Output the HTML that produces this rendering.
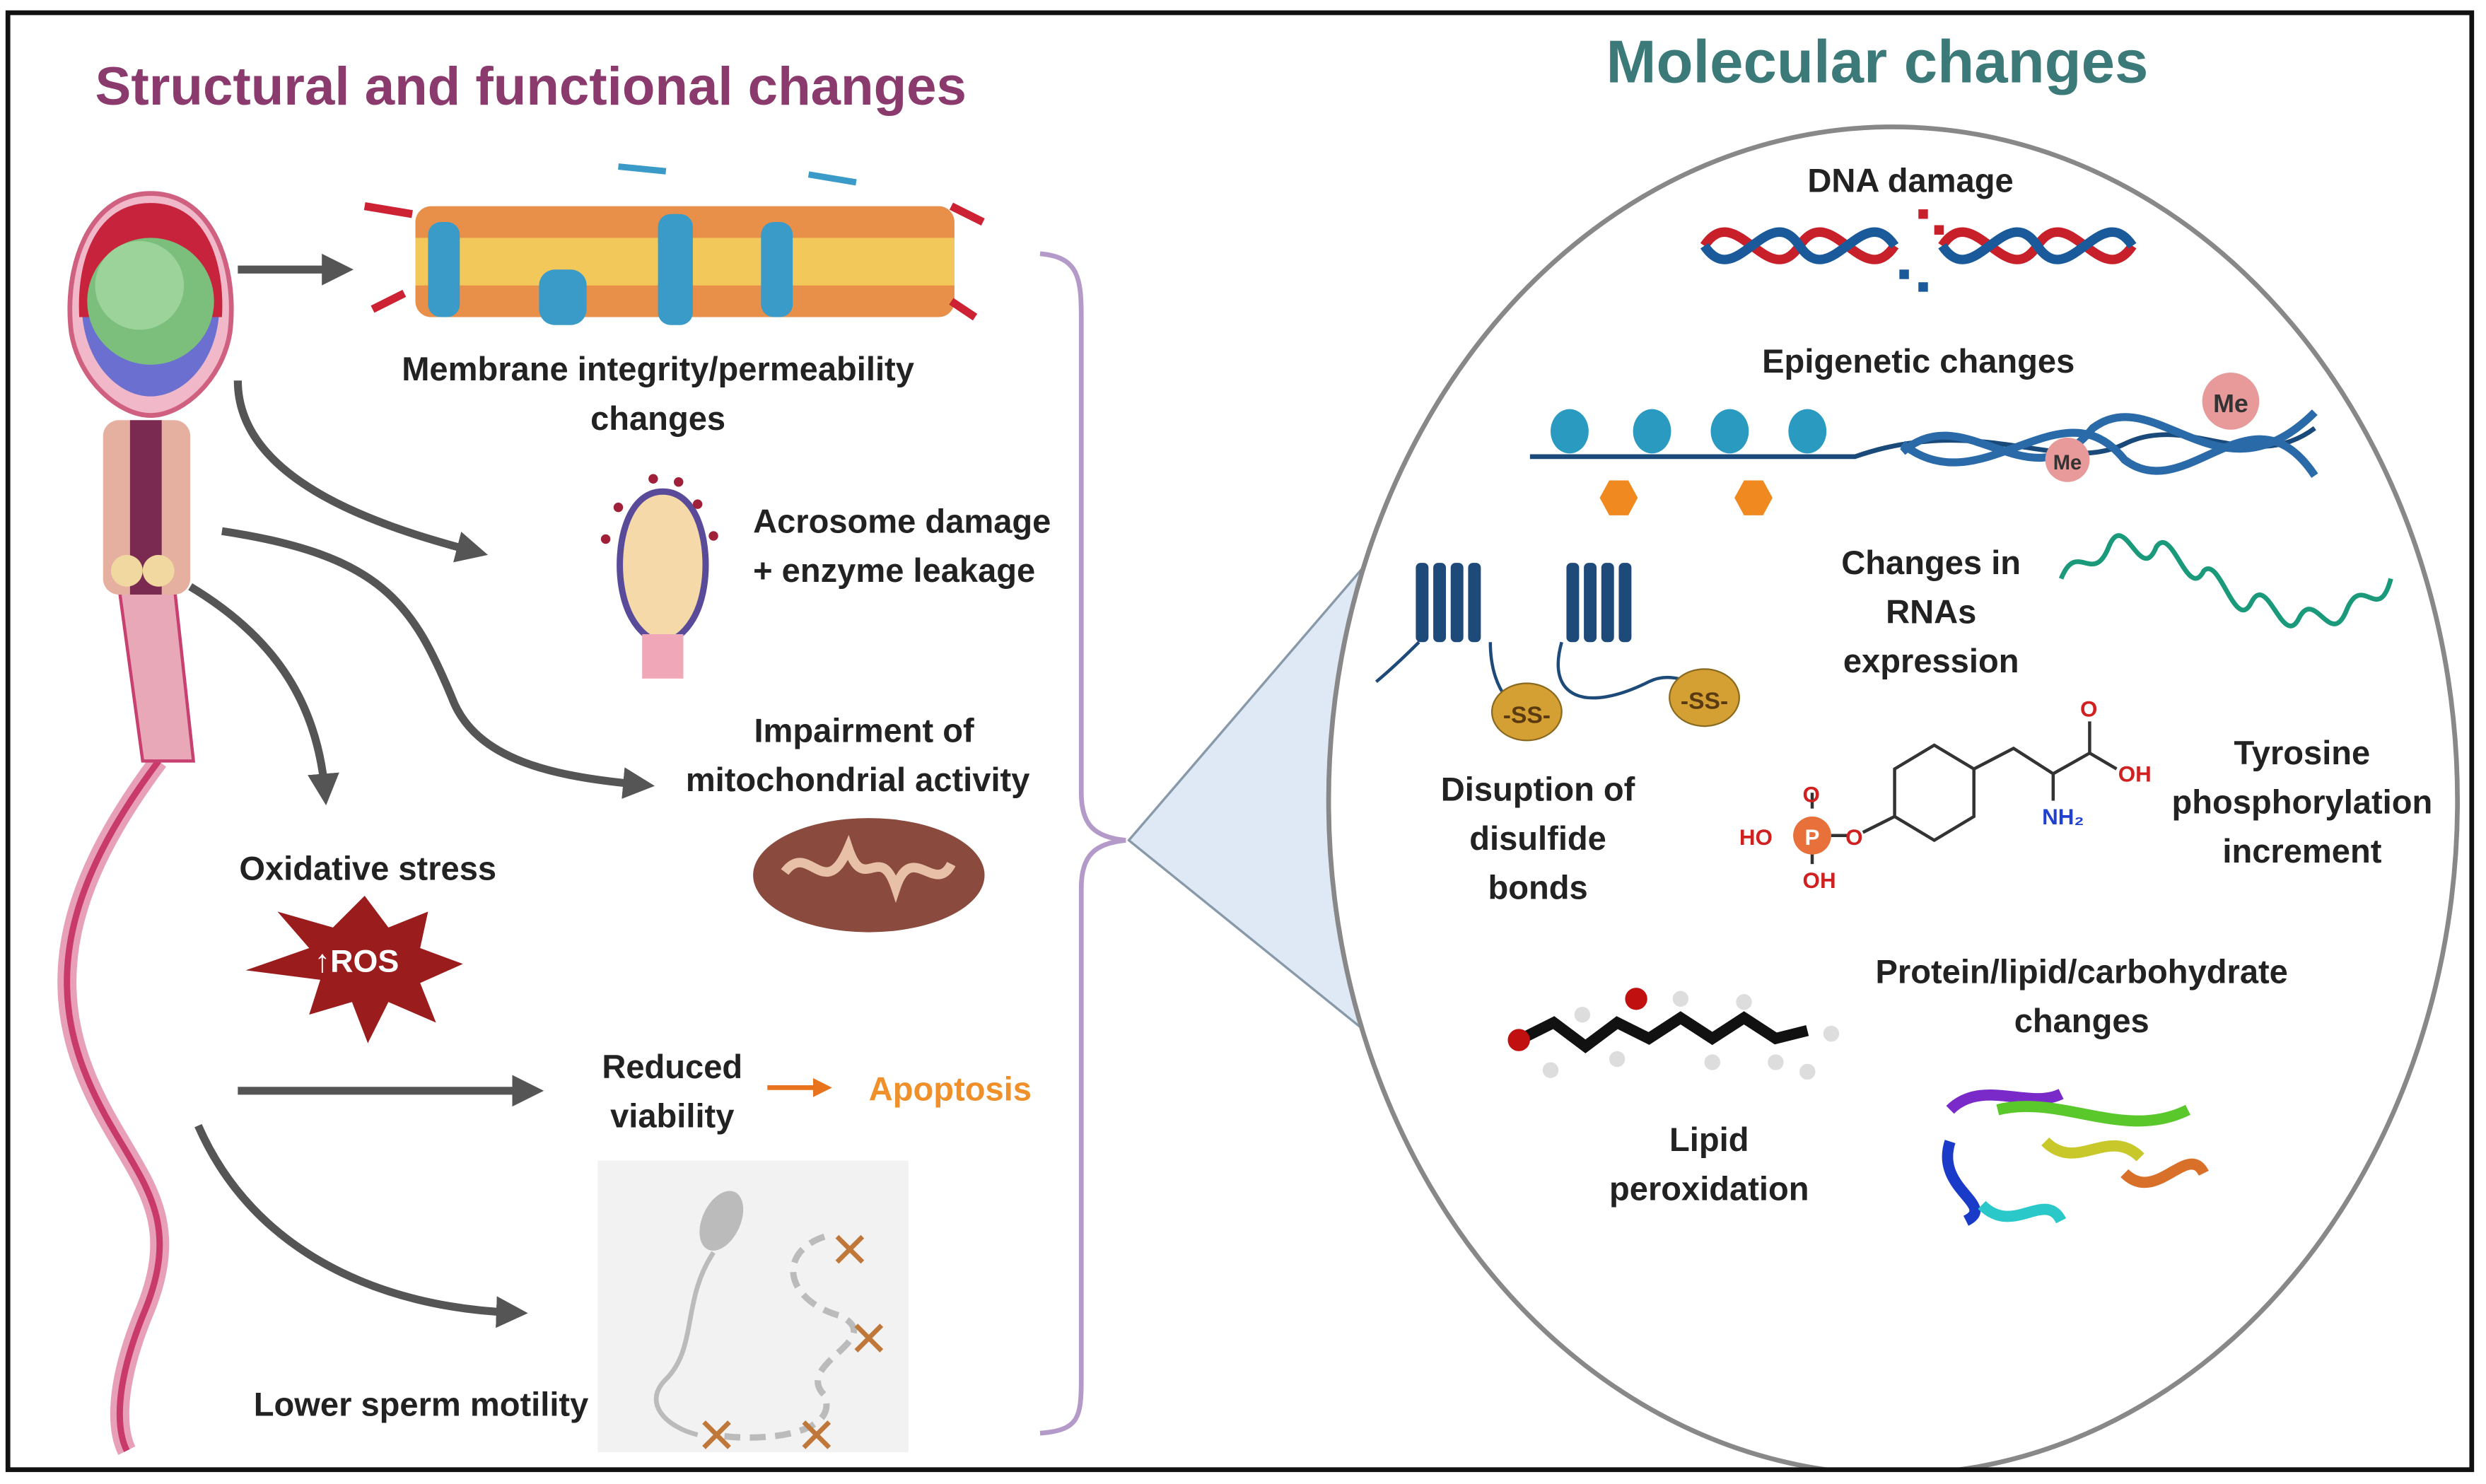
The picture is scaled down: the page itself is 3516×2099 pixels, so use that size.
<!DOCTYPE html>
<html><head><meta charset="utf-8"><style>
html,body{margin:0;padding:0;background:#fff}
svg{display:block}
text{font-family:"Liberation Sans",sans-serif;font-weight:bold}
</style></head><body>
<svg width="3516" height="2099" viewBox="0 0 1568 936" xmlns="http://www.w3.org/2000/svg">
<defs>
<marker id="ar" viewBox="0 0 10 10" refX="6" refY="5" markerWidth="4" markerHeight="4" orient="auto"><path d="M0,0L10,5L0,10z" fill="#555"/></marker>
<marker id="ao" viewBox="0 0 10 10" refX="6" refY="5" markerWidth="4" markerHeight="4" orient="auto"><path d="M0,0L10,5L0,10z" fill="#e8731c"/></marker>
<clipPath id="cl"><rect x="0" y="0" width="1568" height="926"/></clipPath>
</defs>
<rect x="0" y="0" width="1568" height="936" fill="#fff"/>
<text x="60" y="66" font-size="34" fill="#8b3a6e">Structural and functional changes</text>
<text x="1013" y="52" font-size="38" fill="#3c7a7a">Molecular changes</text>

<!-- sperm -->
<path d="M100,480 C40,560 30,620 55,680 C80,740 120,760 90,830 C70,880 75,905 80,915" fill="none" stroke="#e8a0b8" stroke-width="12"/>
<path d="M100,480 C40,560 30,620 55,680 C80,740 120,760 90,830 C70,880 75,905 80,915" fill="none" stroke="#c73a6a" stroke-width="4"/>
<path d="M75,370 L110,370 L122,480 L90,480 Z" fill="#e8a8b8" stroke="#c84070" stroke-width="2"/>
<rect x="65" y="265" width="55" height="110" rx="10" fill="#e6b0a0"/>
<rect x="82" y="265" width="20" height="110" fill="#7a2a50"/>
<circle cx="80" cy="360" r="10" fill="#f1d8a0"/><circle cx="100" cy="360" r="10" fill="#f1d8a0"/>
<path d="M95,122 C55,122 40,170 45,210 C50,240 75,262 95,262 C115,262 140,240 145,210 C150,170 135,122 95,122 Z" fill="#f0b8c8" stroke="#d06080" stroke-width="3"/>
<path d="M95,128 C60,128 48,165 50,200 L140,200 C142,165 130,128 95,128 Z" fill="#c8233d"/>
<path d="M52,200 C55,230 75,250 95,250 C115,250 135,230 138,200 Z" fill="#6a6fd0"/>
<circle cx="95" cy="190" r="40" fill="#7cbf7c"/>
<circle cx="88" cy="180" r="28" fill="#a8dba8" opacity=".7"/>

<g stroke="#555" stroke-width="5" fill="none" marker-end="url(#ar)">
<path d="M150,170 L215,170"/>
<path d="M150,240 C150,300 230,330 300,348"/>
<path d="M140,335 C240,350 260,380 285,440 C300,480 350,490 405,495"/>
<path d="M120,370 C170,400 200,440 205,500"/>
<path d="M150,688 L335,688"/>
<path d="M125,710 C160,790 240,825 325,828"/>
</g>

<!-- membrane -->
<rect x="262" y="130" width="340" height="70" rx="10" fill="#e8904a"/>
<rect x="262" y="150" width="340" height="30" fill="#f3c85a"/>
<rect x="270" y="140" width="20" height="60" rx="8" fill="#3a9ac8"/>
<rect x="415" y="135" width="22" height="70" rx="8" fill="#3a9ac8"/>
<rect x="340" y="170" width="30" height="35" rx="10" fill="#3a9ac8"/>
<rect x="480" y="140" width="20" height="60" rx="8" fill="#3a9ac8"/>
<path d="M230,130 L260,135 M235,195 L255,185 M600,130 L620,140 M600,190 L615,200" stroke="#c23" stroke-width="5"/>
<path d="M390,105 L420,108 M510,110 L540,115" stroke="#3a9ac8" stroke-width="4"/>
<text x="415" y="240" font-size="21" fill="#222" text-anchor="middle">Membrane integrity/permeability</text>
<text x="415" y="271" font-size="21" fill="#222" text-anchor="middle">changes</text>

<path d="M418,310 C395,310 388,345 392,370 C396,395 410,405 418,405 C426,405 440,395 444,370 C448,345 441,310 418,310 Z" fill="#f5d9a8" stroke="#5a4a9a" stroke-width="4"/>
<rect x="405" y="400" width="26" height="28" fill="#f0a8b8"/>
<g fill="#a0203a"><circle cx="390" cy="320" r="3"/><circle cx="382" cy="340" r="3"/><circle cx="440" cy="318" r="3"/><circle cx="450" cy="338" r="3"/><circle cx="412" cy="302" r="3"/><circle cx="428" cy="304" r="3"/></g>
<text x="475" y="336" font-size="21" fill="#222">Acrosome damage</text>
<text x="475" y="367" font-size="21" fill="#222">+ enzyme leakage</text>

<text x="545" y="468" font-size="21" fill="#222" text-anchor="middle">Impairment of</text>
<text x="541" y="499" font-size="21" fill="#222" text-anchor="middle">mitochondrial activity</text>
<ellipse cx="548" cy="552" rx="73" ry="36" fill="#8a4a3e"/>
<path d="M495,550 C510,530 520,570 535,535 C545,565 555,530 565,560 C575,530 590,565 600,545" stroke="#e8c0a8" stroke-width="6" fill="none"/>

<text x="232" y="555" font-size="21" fill="#222" text-anchor="middle">Oxidative stress</text>
<polygon points="230,565 245,585 270,575 265,598 292,608 265,620 275,645 245,632 232,658 222,632 195,640 202,618 155,612 195,598 175,575 210,585" fill="#9a1c1c"/>
<text x="225" y="613" font-size="20" fill="#fff" text-anchor="middle">↑ROS</text>

<text x="424" y="680" font-size="21" fill="#222" text-anchor="middle">Reduced</text>
<text x="424" y="711" font-size="21" fill="#222" text-anchor="middle">viability</text>
<path d="M484,686 L520,686" stroke="#e8731c" stroke-width="3" marker-end="url(#ao)"/>
<text x="548" y="694" font-size="21" fill="#f0902a">Apoptosis</text>

<rect x="377" y="732" width="196" height="184" fill="#f2f2f2"/>
<ellipse cx="455" cy="770" rx="12" ry="20" fill="#bbb" transform="rotate(25 455 770)"/>
<path d="M450,790 C430,820 440,850 420,870 C405,885 420,900 440,905" stroke="#bbb" stroke-width="3" fill="none"/>
<path d="M520,780 C490,790 495,820 530,830 C560,845 500,860 520,880 C530,905 480,910 450,905" stroke="#bbb" stroke-width="4" stroke-dasharray="10 6" fill="none"/>
<g stroke="#c0783a" stroke-width="3"><path d="M528,780l16,16M544,780l-16,16M540,836l16,16M556,836l-16,16M444,897l16,16M460,897l-16,16M507,897l16,16M523,897l-16,16"/></g>
<text x="160" y="893" font-size="21" fill="#222">Lower sperm motility</text>

<path d="M656,160 C680,162 682,175 682,200 L682,500 C682,520 690,528 710,530 C690,532 682,540 682,560 L682,870 C682,895 680,902 656,904" fill="none" stroke="#b39ac8" stroke-width="3"/>

<polygon points="712,530 858,360 935,710" fill="#dfe8f5" stroke="#8899aa" stroke-width="1.5"/>
<ellipse cx="1194" cy="505" rx="356" ry="425" fill="#fff" stroke="#888" stroke-width="3" clip-path="url(#cl)"/>

<text x="1205" y="121" font-size="21" fill="#222" text-anchor="middle">DNA damage</text>
<path d="M1075,155 C1095,125 1115,185 1135,155 C1155,125 1175,185 1195,155 M1225,155 C1245,125 1265,185 1285,155 C1305,125 1325,185 1345,155" stroke="#c8202a" stroke-width="6" fill="none"/>
<path d="M1075,155 C1095,185 1115,125 1135,155 C1155,185 1175,125 1195,155 M1225,155 C1245,185 1265,125 1285,155 C1305,185 1325,125 1345,155" stroke="#1a5a9a" stroke-width="6" fill="none"/>
<g fill="#1a5a9a"><rect x="1198" y="170" width="6" height="6"/><rect x="1210" y="178" width="6" height="6"/></g>
<g fill="#c8202a"><rect x="1210" y="132" width="6" height="6"/><rect x="1220" y="142" width="6" height="6"/></g>

<text x="1210" y="235" font-size="21" fill="#222" text-anchor="middle">Epigenetic changes</text>
<path d="M965,288 L1170,288 C1250,260 1300,300 1340,280 C1380,260 1420,300 1460,270" stroke="#1a4a7a" stroke-width="3" fill="none"/>
<path d="M1200,285 C1240,250 1280,320 1320,270 C1360,240 1400,320 1460,260 M1200,280 C1250,320 1300,240 1340,290 C1380,320 1420,240 1460,300" stroke="#2a6aa8" stroke-width="5" fill="none"/>
<g fill="#2a9ac0"><ellipse cx="990" cy="272" rx="12" ry="14"/><ellipse cx="1042" cy="272" rx="12" ry="14"/><ellipse cx="1091" cy="272" rx="12" ry="14"/><ellipse cx="1140" cy="272" rx="12" ry="14"/></g>
<g fill="#f08a20"><polygon points="1015,303 1027,303 1033,314 1027,325 1015,325 1009,314"/><polygon points="1100,303 1112,303 1118,314 1112,325 1100,325 1094,314"/></g>
<circle cx="1407" cy="253" r="18" fill="#e89a9a"/><text x="1407" y="260" font-size="16" fill="#333" text-anchor="middle" font-weight="normal">Me</text>
<circle cx="1304" cy="290" r="14" fill="#e89a9a"/><text x="1304" y="296" font-size="13" fill="#333" text-anchor="middle" font-weight="normal">Me</text>

<text x="1218" y="362" font-size="21" fill="#222" text-anchor="middle">Changes in</text>
<text x="1218" y="393" font-size="21" fill="#222" text-anchor="middle">RNAs</text>
<text x="1218" y="424" font-size="21" fill="#222" text-anchor="middle">expression</text>
<path d="M1300,365 C1310,340 1320,370 1330,345 C1340,320 1350,370 1360,345 C1370,330 1380,380 1390,360 C1400,350 1410,400 1420,380 C1430,360 1440,410 1450,390 C1460,370 1470,410 1480,385 C1490,360 1500,395 1508,365" stroke="#1a9a7a" stroke-width="3" fill="none"/>

<g fill="#1e4a7a"><rect x="893" y="355" width="8" height="50" rx="3"/><rect x="904" y="355" width="8" height="50" rx="3"/><rect x="915" y="355" width="8" height="50" rx="3"/><rect x="926" y="355" width="8" height="50" rx="3"/><rect x="988" y="355" width="8" height="50" rx="3"/><rect x="999" y="355" width="8" height="50" rx="3"/><rect x="1010" y="355" width="8" height="50" rx="3"/><rect x="1021" y="355" width="8" height="50" rx="3"/></g>
<path d="M868,430 C880,420 890,410 895,405 M940,405 C940,440 960,450 962,448 M985,405 C975,440 1000,450 1040,430 C1060,420 1080,440 1095,445" stroke="#1e4a7a" stroke-width="2" fill="none"/>
<ellipse cx="963" cy="449" rx="22" ry="18" fill="#d4a034" stroke="#8a6a20"/><text x="963" y="456" font-size="15" fill="#5a3a10" text-anchor="middle">-SS-</text>
<ellipse cx="1075" cy="440" rx="22" ry="18" fill="#d4a034" stroke="#8a6a20"/><text x="1075" y="447" font-size="15" fill="#5a3a10" text-anchor="middle">-SS-</text>
<text x="970" y="505" font-size="21" fill="#222" text-anchor="middle">Disuption of</text>
<text x="970" y="536" font-size="21" fill="#222" text-anchor="middle">disulfide</text>
<text x="970" y="567" font-size="21" fill="#222" text-anchor="middle">bonds</text>

<polygon points="1195,485 1220,470 1245,485 1245,515 1220,530 1195,515" fill="none" stroke="#333" stroke-width="2"/>
<path d="M1245,485 L1270,472 L1295,488 L1318,475 M1318,475 L1318,455 M1318,475 L1335,485 M1295,488 L1295,505 M1195,515 L1175,525 M1155,527 L1165,527 M1143,510 L1143,500 M1143,545 L1143,535" stroke="#333" stroke-width="2" fill="none"/>
<circle cx="1143" cy="527" r="12" fill="#e8703a"/><text x="1143" y="533" font-size="14" fill="#fff" text-anchor="middle" font-weight="normal">P</text>
<g font-size="14" font-weight="normal"><text x="1097" y="533" fill="#d02020">HO</text><text x="1164" y="533" fill="#d02020">O</text><text x="1137" y="506" fill="#d02020">O</text><text x="1137" y="560" fill="#d02020">OH</text><text x="1312" y="452" fill="#d02020">O</text><text x="1336" y="493" fill="#d02020">OH</text><text x="1288" y="520" fill="#2040d0">NH₂</text></g>
<text x="1452" y="482" font-size="21" fill="#222" text-anchor="middle">Tyrosine</text>
<text x="1452" y="513" font-size="21" fill="#222" text-anchor="middle">phosphorylation</text>
<text x="1452" y="544" font-size="21" fill="#222" text-anchor="middle">increment</text>

<text x="1313" y="620" font-size="21" fill="#222" text-anchor="middle">Protein/lipid/carbohydrate</text>
<text x="1313" y="651" font-size="21" fill="#222" text-anchor="middle">changes</text>
<g stroke-width="7" fill="none"><path d="M1230,700 C1250,680 1280,700 1300,690" stroke="#7a2ac8"/><path d="M1260,700 C1300,690 1340,720 1380,700" stroke="#5ac82a"/><path d="M1230,720 C1220,750 1260,760 1240,770" stroke="#1a3ac8"/><path d="M1250,760 C1270,780 1290,750 1300,770" stroke="#2ac8c8"/><path d="M1340,740 C1360,760 1380,720 1390,740" stroke="#d8702a"/><path d="M1290,720 C1310,740 1330,710 1350,730" stroke="#c8c82a"/></g>

<path d="M960,655 L980,645 L1000,660 L1020,645 L1040,655 L1060,642 L1080,655 L1100,642 L1120,655 L1140,650" stroke="#111" stroke-width="7" fill="none"/>
<circle cx="958" cy="656" r="7" fill="#c01010"/><circle cx="1032" cy="630" r="7" fill="#c01010"/>
<g fill="#ddd"><circle cx="978" cy="675" r="5"/><circle cx="998" cy="640" r="5"/><circle cx="1020" cy="668" r="5"/><circle cx="1060" cy="630" r="5"/><circle cx="1080" cy="670" r="5"/><circle cx="1100" cy="632" r="5"/><circle cx="1120" cy="670" r="5"/><circle cx="1155" cy="652" r="5"/><circle cx="1140" cy="676" r="5"/></g>
<text x="1078" y="726" font-size="21" fill="#222" text-anchor="middle">Lipid</text>
<text x="1078" y="757" font-size="21" fill="#222" text-anchor="middle">peroxidation</text>

<rect x="5" y="8" width="1554" height="919" fill="none" stroke="#111" stroke-width="3"/>
</svg>
</body></html>
